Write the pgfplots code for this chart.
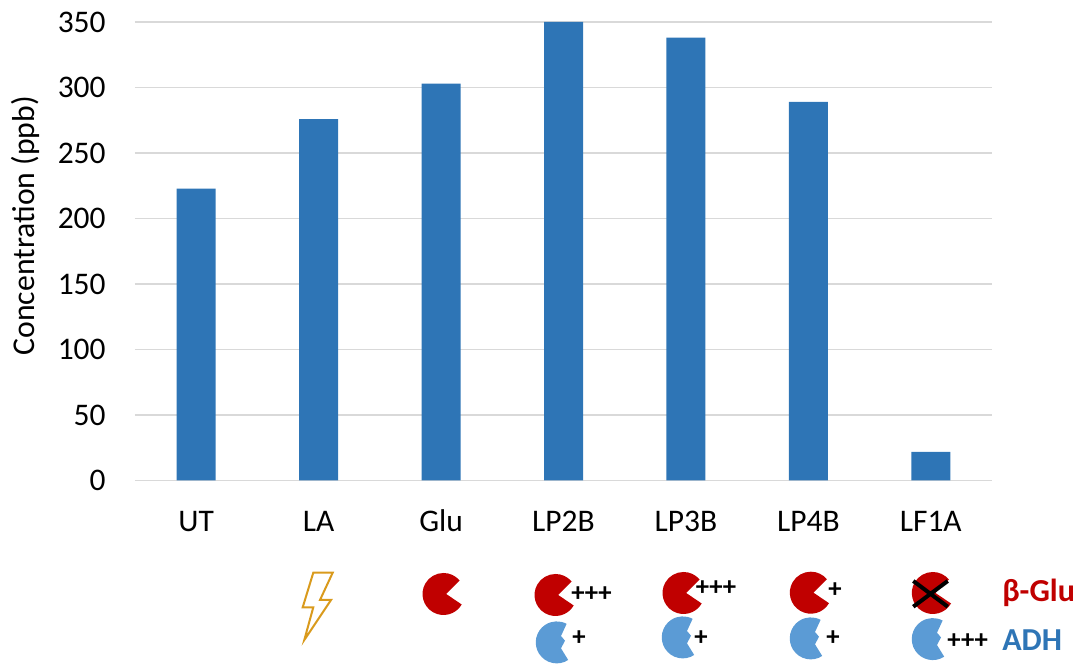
\documentclass[border=0pt]{standalone}
\usepackage{pgfplots}
\usepackage{fontspec}
\setmainfont{Carlito}
\pgfplotsset{compat=1.18}
\definecolor{barblue}{HTML}{2E75B6}
\definecolor{gridg}{HTML}{D9D9D9}
\definecolor{enzred}{HTML}{C00000}
\definecolor{enzblue}{HTML}{5B9BD5}
\definecolor{bolt}{HTML}{D99A1C}
\newcommand{\redpac}[2]{\fill[enzred] (#1+18,#2+10.5) arc[start angle=30,end angle=320,radius=21] -- (#1+2.5,#2) -- cycle;}
\newcommand{\bluepac}[2]{\fill[enzblue] (#1+10.5,#2+16) arc[start angle=57,end angle=298,radius=21] -- (#1+3.3,#2-8) -- (#1+7.3,#2-3.3) -- (#1+3.3,#2+4.3) -- cycle;}
\newcommand{\plusnode}[3]{\node[font=\fontsize{20}{22}\selectfont\bfseries,inner sep=0pt] at (#1,#2) {#3};}
\begin{document}
\begin{tikzpicture}[x=0.75pt,y=0.75pt]
\useasboundingbox (0,0) rectangle (1079,666);
\begin{axis}[
  at={(101.25pt,139.125pt)}, anchor=south west, scale only axis,
  width=642.75pt, height=343.9pt,
  xmin=-0.5, xmax=6.5, ymin=0, ymax=350,
  axis x line*=bottom, axis y line*=left,
  y axis line style={draw=none},
  x axis line style={gridg,line width=1.3pt,-},
  ymajorgrids, grid style={gridg,line width=1.3pt},
  major tick style={draw=none},
  ytick={0,50,...,350}, xtick=data,
  xticklabels={UT,LA,Glu,LP2B,LP3B,LP4B,LF1A},
  /pgf/number format/assume math mode=true,
  tick label style={font=\fontsize{23.6}{27}\selectfont},
  yticklabel style={xshift=-18.5pt},
  xticklabel style={text height=16pt,text depth=0pt,yshift=-19pt},
  ylabel={Concentration (ppb)},
  ylabel style={font=\fontsize{23.8}{27}\selectfont,at={(axis description cs:-0.1275,0.5555)},anchor=center,inner sep=0pt},
  clip=false,
]
\addplot[ybar,bar width=29.25pt,fill=barblue,draw=none,bar shift=0pt] coordinates {
  (0,222.8) (1,275.9) (2,303) (3,350) (4,338) (5,289) (6,21.8)};
\end{axis}
\begin{scope}[yshift=499.5pt,yscale=-1]
\draw[bolt,line width=1.5pt,line join=miter] (313.3,572.7) -- (332.7,572.7) -- (320,600) -- (331,600) -- (304.3,640) -- (313.3,607.3) -- (302.7,607.3) -- cycle;
\redpac{443.7}{594}
\redpac{555.7}{595}
\bluepac{557.7}{644}
\redpac{683.7}{593}
\bluepac{683.7}{639}
\redpac{811}{592.7}
\bluepac{811.7}{640}
\redpac{933}{593}
\bluepac{933.7}{640.7}
\draw[black,line width=3pt] (913.3,581) -- (947.7,606.7) (913.3,606.7) -- (947.7,581);
\plusnode{591.5}{594}{+++}
\plusnode{579}{638}{+}
\plusnode{716}{587.7}{+++}
\plusnode{701}{637.7}{+}
\plusnode{835}{590}{+}
\plusnode{833}{637.7}{+}
\plusnode{967.7}{640.7}{+++}
\node[font=\fontsize{24}{27}\selectfont\bfseries,text=enzred,anchor=west,inner sep=0pt] at (1002,593) {β-Glu};
\node[font=\fontsize{24}{27}\selectfont\bfseries,text=barblue,anchor=west,inner sep=0pt] at (1002,640) {ADH};
\end{scope}
\end{tikzpicture}
\end{document}
